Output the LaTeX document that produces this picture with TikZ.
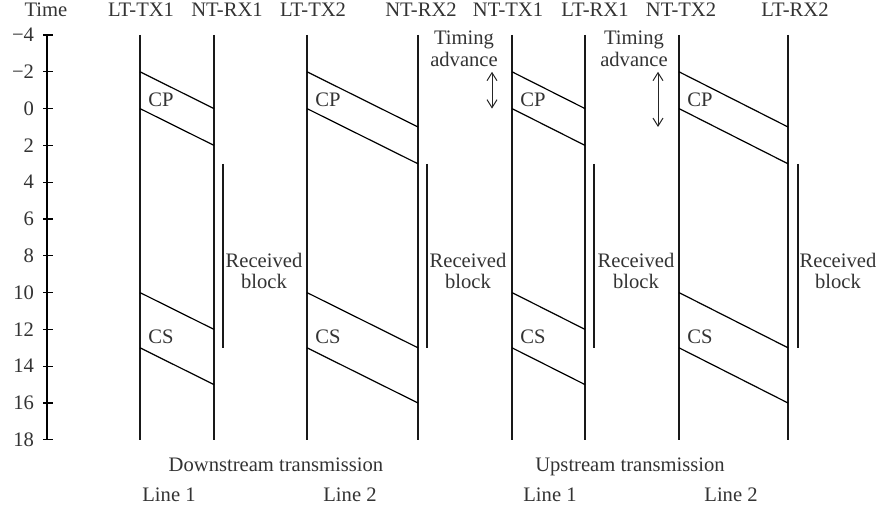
\documentclass[tikz,border=0pt]{standalone}
\usepackage{fontspec}
\setmainfont{Liberation Serif}
\usetikzlibrary{arrows.meta}
\begin{document}
\begin{tikzpicture}[x=0.5pt,y=-9.2pt,
  lbl/.style={inner sep=0pt, outer sep=0pt, text=black!80, font=\fontsize{10.3}{11}\selectfont},
  wire/.style={line width=0.65pt, draw=black!90},
  slant/.style={line width=0.6pt, draw=black},
  tickmark/.style={line width=0.6pt, draw=black},
  rxbar/.style={line width=0.7pt, draw=black!90},
  ta/.style={line width=0.5pt, draw=black!85, {Straight Barb[length=4pt,width=5pt]}-{Straight Barb[length=4pt,width=5pt]}}]
\useasboundingbox (0,-5.902) rectangle (876,21.924);

% time axis
\coordinate (axTop) at (47,-4);
\coordinate (axBot) at (47,18);
\draw[tickmark] (axTop) -- (axBot);
\foreach \t/\s [count=\i] in {-4/−4,-2/−2,0/0,2/2,4/4,6/6,8/8,10/10,12/12,14/14,16/16,18/18}{
  \draw[tickmark] (43,\t) -- (53,\t);
  \node[lbl,anchor=east] (tick\i) at (34,\t) {\s};
}

% headers
\node[lbl,anchor=base] (hTime) at (46,-4.98) {Time};
\node[lbl,anchor=base] (h1) at (141,-4.98) {LT-TX1};
\node[lbl,anchor=base] (h2) at (227,-4.98) {NT-RX1};
\node[lbl,anchor=base] (h3) at (313,-4.98) {LT-TX2};
\node[lbl,anchor=base] (h4) at (421,-4.98) {NT-RX2};
\node[lbl,anchor=base] (h5) at (508,-4.98) {NT-TX1};
\node[lbl,anchor=base] (h6) at (595,-4.98) {LT-RX1};
\node[lbl,anchor=base] (h7) at (681,-4.98) {NT-TX2};
\node[lbl,anchor=base] (h8) at (795,-4.98) {LT-RX2};

% vertical time lines
\foreach \x/\n in {140/a,214/b,307/c,418/d,512/e,585/f,679/g,788/h}{
  \coordinate (\n top) at (\x,-4);
  \coordinate (\n bot) at (\x,18);
  \draw[wire] (\n top) -- (\n bot);
}

% slanted block boundaries
\foreach \l/\r/\d in {140/214/2,307/418/3,512/585/2,679/788/3}{
  \draw[slant] (\l,-2) -- (\r,{-2+\d});
  \draw[slant] (\l,0) -- (\r,{0+\d});
  \draw[slant] (\l,10) -- (\r,{10+\d});
  \draw[slant] (\l,13) -- (\r,{13+\d});
}

% CP / CS labels
\foreach \x [count=\i] in {161,328,533,700}{
  \node[lbl] (cp\i) at (\x,-0.47) {CP};
  \node[lbl] (cs\i) at (\x,12.4) {CS};
}

% received block bars and labels
\foreach \b/\c [count=\i] in {223/264,427/468,594/636,798/838}{
  \draw[rxbar] (\b,3) -- (\b,13);
  \node[lbl,anchor=base] (rbA\i) at (\c,8.61) {Received};
  \node[lbl,anchor=base] (rbB\i) at (\c,9.80) {block};
}

% timing advance
\node[lbl,anchor=base] (taA1) at (464,-3.46) {Timing};
\node[lbl,anchor=base] (taB1) at (464,-2.28) {advance};
\node[lbl,anchor=base] (taA2) at (634,-3.46) {Timing};
\node[lbl,anchor=base] (taB2) at (634,-2.28) {advance};
\coordinate (ta1s) at (492,-2);
\coordinate (ta1e) at (492,0);
\coordinate (ta2s) at (658,-2);
\coordinate (ta2e) at (658,1);
\draw[ta] (ta1s) -- (ta1e);
\draw[ta] (ta2s) -- (ta2e);

% bottom labels
\node[lbl,anchor=base] (down) at (276,19.73) {Downstream transmission};
\node[lbl,anchor=base] (up) at (630,19.73) {Upstream transmission};
\node[lbl,anchor=base] (dl1) at (169,21.36) {Line 1};
\node[lbl,anchor=base] (dl2) at (350,21.36) {Line 2};
\node[lbl,anchor=base] (ul1) at (550,21.36) {Line 1};
\node[lbl,anchor=base] (ul2) at (731,21.36) {Line 2};
\end{tikzpicture}
\end{document}
